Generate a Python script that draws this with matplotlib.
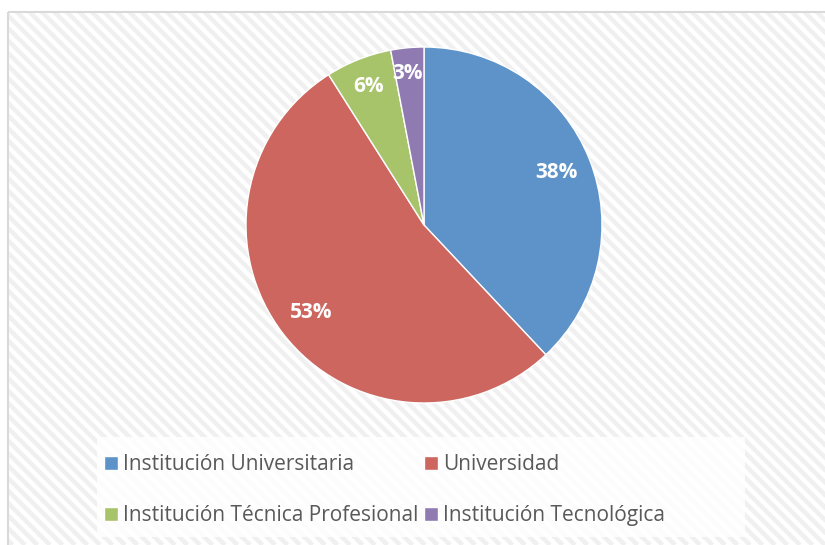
"""Pie chart: distribucion por tipo de institucion."""
import matplotlib.pyplot as plt
from matplotlib.patches import Rectangle
import numpy as np

categories = ["Institución Universitaria", "Universidad",
              "Institución Técnica Profesional", "Institución Tecnológica"]
shares = [38, 53, 6, 3]
colors = ["#5D93C9", "#CD665F", "#A8C46A", "#8F7BB1"]

W, H = 825, 545
fig = plt.figure(figsize=(W / 100, H / 100), dpi=100)

# background with diagonal stripes
bg = fig.add_axes([0, 0, 1, 1])
bg.set_xlim(0, W)
bg.set_ylim(H, 0)
bg.axis("off")
for x0 in np.arange(-H, W + 20, 12.5):
    bg.plot([x0, x0 + H], [0, H], color="#f0f0f0", lw=3.2,
            solid_capstyle="butt", zorder=0)
# white margin above and left of the chart border
bg.add_patch(Rectangle((0, 0), W, 12, color="white", zorder=1))
bg.add_patch(Rectangle((0, 0), 8, H, color="white", zorder=1))
bg.add_patch(Rectangle((8, 12), W + 10, H, fill=False, ec="#d9d9d9",
                       lw=1.5, zorder=2))
# legend box
bg.add_patch(Rectangle((97, 437), 648, 100, color="white", alpha=0.85,
                       lw=0, zorder=1))

ax = fig.add_axes([246 / W, (H - 403) / H, 356 / W, 356 / H])
wedges, texts, autotexts = ax.pie(
    shares, colors=colors, startangle=90, counterclock=False,
    autopct=lambda p: f"{round(p)}%", pctdistance=0.8,
    wedgeprops=dict(edgecolor="white", linewidth=1),
    textprops=dict(color="white", fontsize=15, fontweight="bold",
                   family="Open Sans"))
autotexts[2].set_position((-0.31, 0.78))
autotexts[3].set_position((-0.09, 0.85))
ax.set_xlim(-1, 1)
ax.set_ylim(-1, 1)

# legend filled row by row, like the original
order = [0, 2, 1, 3]
fig.legend([wedges[i] for i in order], [categories[i] for i in order],
           ncol=2, loc="center left",
           bbox_to_anchor=(104 / W, 1 - 490 / H), frameon=False,
           prop=dict(family="Open Sans", size=15),
           labelcolor="#595959", handlelength=0.65, handleheight=0.65,
           handletextpad=0.25, columnspacing=0.3, labelspacing=1.45,
           borderaxespad=0, borderpad=0)

fig.savefig("out.png", dpi=100)
